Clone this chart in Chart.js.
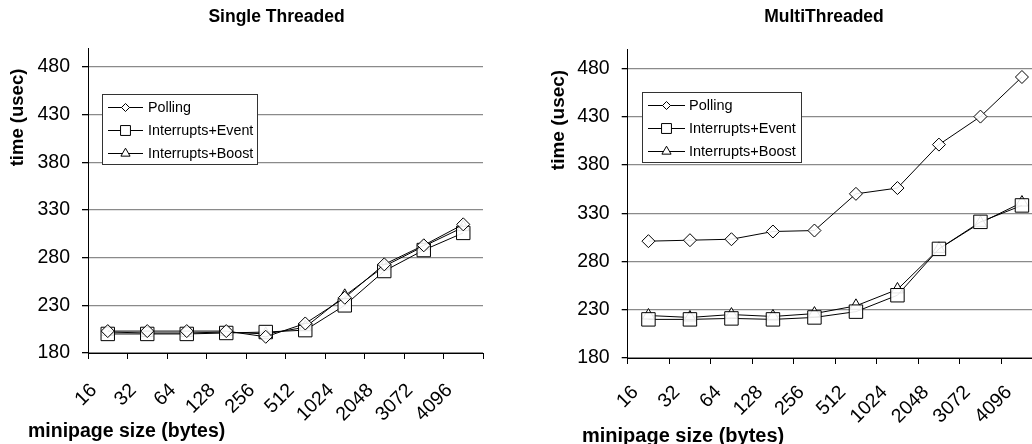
<!DOCTYPE html>
<html><head><meta charset="utf-8">
<script src="https://cdn.jsdelivr.net/npm/chart.js@4.4.1/dist/chart.umd.min.js"></script>
<style>
html,body{margin:0;padding:0;background:#fff;width:1032px;height:444px;overflow:hidden;position:relative}
#c1{position:absolute;left:0;top:0}
#c2{position:absolute;left:516px;top:0}
</style></head><body>
<canvas id="c1" width="553" height="444"></canvas>
<canvas id="c2" width="616" height="444"></canvas>
<script>
// ---- data ----
const CATEGORIES = ['16','32','64','128','256','512','1024','2048','3072','4096'];
const SERIES_NAMES = ['Polling','Interrupts+Event','Interrupts+Boost'];
const Y_TICKS = [180,230,280,330,380,430,480];
const Y_MIN = 180, Y_MAX = 500;
const SINGLE_POLLING = [203,203,203,203,197,211,238,273,293,315];
const SINGLE_EVENT   = [200,200,200,201,202,204,230,266,288,306];
const SINGLE_BOOST   = [202,201,201,202,200,207,240,271,292,312];
const MULTI_POLLING  = [301,302,303,311,312,350,356,401,430,471];
const MULTI_EVENT    = [220,220,221,220,222,228,245,293,321,338];
const MULTI_BOOST    = [224,222,225,223,226,234,251,293,320,341];

const FONT = "'Liberation Sans', Arial, Helvetica, sans-serif";
const STYLES = ['rectRot','rect','triangle'];
const RADII = [6.5, 9.5, 7];

function fallbackPoint(ctx, style, r, x, y){
  ctx.beginPath();
  if (style === 'rectRot'){ ctx.moveTo(x, y-r); ctx.lineTo(x+r, y); ctx.lineTo(x, y+r); ctx.lineTo(x-r, y); ctx.closePath(); }
  else if (style === 'rect'){ const s = r*Math.SQRT1_2; ctx.rect(x-s, y-s, 2*s, 2*s); }
  else { ctx.moveTo(x, y-r); ctx.lineTo(x+r*0.866, y+r/2); ctx.lineTo(x-r*0.866, y+r/2); ctx.closePath(); }
  ctx.fill(); ctx.stroke();
}

const boxLegend = {
  id: 'boxLegend',
  afterDatasetsDraw(chart, args, o) {
    const ctx = chart.ctx, ca = chart.chartArea;
    const x0 = Math.round(ca.left + o.dx), y0 = Math.round(ca.top + o.dy);
    ctx.save();
    ctx.fillStyle = '#fff';
    ctx.fillRect(x0, y0, o.w, o.h);
    ctx.strokeStyle = '#333'; ctx.lineWidth = 1;
    ctx.strokeRect(x0 + 0.5, y0 + 0.5, o.w, o.h);
    chart.data.datasets.forEach((ds, i) => {
      const cy = Math.round(y0 + o.rowTop + i * o.rowGap);
      ctx.beginPath();
      ctx.moveTo(x0 + o.lineX0, cy + 0.5); ctx.lineTo(x0 + o.lineX1, cy + 0.5);
      ctx.strokeStyle = '#000'; ctx.lineWidth = 1; ctx.stroke();
      ctx.fillStyle = '#fff'; ctx.strokeStyle = '#000';
      const mx = x0 + (o.lineX0 + o.lineX1) / 2;
      if (Chart.helpers && Chart.helpers.drawPoint) {
        Chart.helpers.drawPoint(ctx, {pointStyle: ds.pointStyle, radius: o.markerR[i], borderWidth: 1, rotation: 0}, mx, cy + 0.5);
      } else {
        fallbackPoint(ctx, ds.pointStyle, o.markerR[i], mx, cy + 0.5);
      }
      ctx.fillStyle = '#000';
      ctx.font = o.fontSize + 'px ' + FONT;
      ctx.textAlign = 'left'; ctx.textBaseline = 'middle';
      ctx.fillText(ds.label, x0 + o.textX, cy + 1);
    });
    ctx.restore();
  }
};

const axisTitles = {
  id: 'axisTitles',
  afterDraw(chart, args, o) {
    const ctx = chart.ctx;
    ctx.save();
    ctx.fillStyle = '#000';
    ctx.font = 'bold ' + o.ySize + 'px ' + FONT;
    ctx.translate(o.yx, o.yy); ctx.rotate(-Math.PI / 2);
    ctx.textAlign = 'center'; ctx.textBaseline = 'middle';
    ctx.fillText(o.yText, 0, 0);
    ctx.restore();
    ctx.save();
    ctx.fillStyle = '#000';
    ctx.font = 'bold ' + o.xSize + 'px ' + FONT;
    ctx.textAlign = 'left'; ctx.textBaseline = 'alphabetic';
    ctx.fillText(o.xText, o.xx, o.xy);
    ctx.restore();
  }
};

function makeDatasets(arrs) {
  return arrs.map((d, i) => ({
    label: SERIES_NAMES[i],
    data: d,
    borderColor: '#000',
    borderWidth: 1,
    pointStyle: STYLES[i],
    pointRadius: RADII[i],
    pointHoverRadius: RADII[i],
    pointBackgroundColor: 'rgba(255,255,255,0.9)',
    pointBorderColor: '#000',
    pointBorderWidth: 1,
    tension: 0,
    fill: false
  }));
}

function makeChart(id, title, arrs, g) {
  return new Chart(document.getElementById(id), {
    type: 'line',
    data: { labels: CATEGORIES, datasets: makeDatasets(arrs) },
    plugins: [boxLegend, axisTitles],
    options: {
      responsive: false,
      animation: false,
      devicePixelRatio: 1,
      layout: { padding: { left: 0, right: 0, top: 0, bottom: 0 } },
      plugins: {
        legend: { display: false },
        tooltip: { enabled: false },
        title: {
          display: true, text: title, color: '#000',
          font: { family: FONT, size: 17.5, weight: 'bold', lineHeight: 1.2 },
          padding: { top: 7, bottom: g.titleBottom }
        },
        boxLegend: g.legend,
        axisTitles: g.titles
      },
      scales: {
        x: {
          type: 'category',
          offset: true,
          afterFit: (s) => { s.height = g.xHeight; },
          grid: { offset: true, drawOnChartArea: false, drawTicks: true, tickLength: 6, tickColor: '#000', color: '#000' },
          border: { display: true, color: '#000', width: 1 },
          ticks: {
            autoSkip: false, minRotation: 45, maxRotation: 45,
            labelOffset: g.labelOffset, padding: g.xPad,
            color: '#000', font: { family: FONT, size: 19.5 }
          }
        },
        y: {
          min: Y_MIN, max: Y_MAX,
          afterFit: (s) => { s.width = g.yWidth; },
          afterBuildTicks: (s) => { s.ticks = Y_TICKS.map(v => ({ value: v })); },
          grid: { color: '#8a8a8a', lineWidth: 1.3, drawTicks: true, tickLength: 6, tickColor: '#000' },
          border: { display: true, color: '#000', width: 1 },
          ticks: { padding: 12, color: '#000', font: { family: FONT, size: 19.5 } }
        },
        spacer: {
          type: 'linear', position: 'right', min: Y_MIN, max: Y_MAX,
          afterFit: (s) => { s.width = g.rightSpace; },
          grid: { display: false, drawOnChartArea: false },
          border: { display: false },
          ticks: { display: false }
        }
      }
    }
  });
}

makeChart('c1', 'Single Threaded', [SINGLE_POLLING, SINGLE_EVENT, SINGLE_BOOST], {
  rightSpace: 70, titleBottom: 20, xHeight: 91, yWidth: 88, labelOffset: -14, xPad: 20,
  legend: { dx: 14, dy: 46, w: 155, h: 70, rowTop: 13, rowGap: 23, lineX0: 6, lineX1: 41, textX: 46, fontSize: 14.3, markerR: [4, 7, 5.3] },
  titles: { ySize: 18.5, xSize: 19.5, yText: 'time (usec)', yx: 18, yy: 117.5, xText: 'minipage size (bytes)', xx: 28, xy: 437 }
});
makeChart('c2', 'MultiThreaded', [MULTI_POLLING, MULTI_EVENT, MULTI_BOOST], {
  rightSpace: 89.3, titleBottom: 21, xHeight: 86, yWidth: 111.7, labelOffset: -13, xPad: 17,
  legend: { dx: 14, dy: 43, w: 159, h: 70, rowTop: 13, rowGap: 23, lineX0: 6, lineX1: 43, textX: 47, fontSize: 14.5, markerR: [4, 7, 5.3] },
  titles: { ySize: 19, xSize: 20, yText: 'time (usec)', yx: 42.5, yy: 120, xText: 'minipage size (bytes)', xx: 66, xy: 442 }
});
</script>
</body></html>
